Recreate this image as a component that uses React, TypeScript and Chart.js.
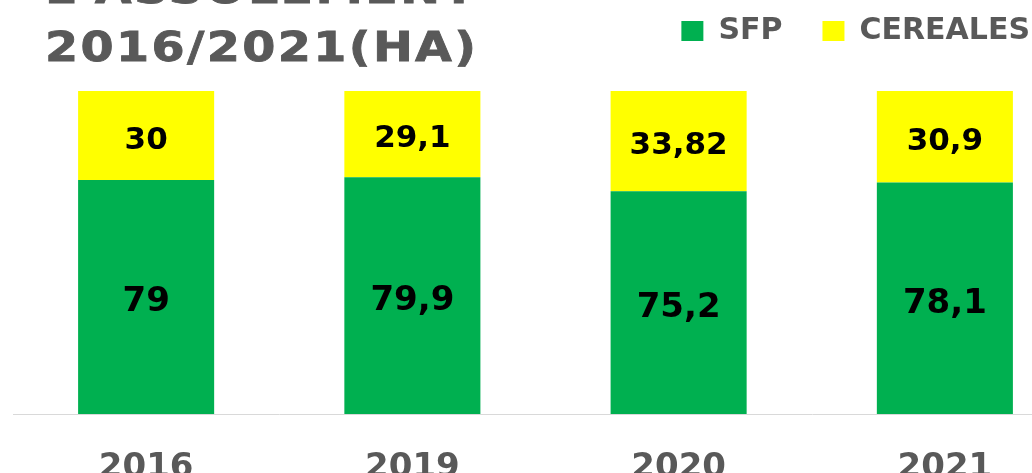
import React, { useEffect, useRef } from "react";
import { Chart, registerables } from "chart.js";

Chart.register(...registerables);

const years = ["2016", "2019", "2020", "2021"];
const sfp = [79, 79.9, 75.2, 78.1];
const cereales = [30, 29.1, 33.82, 30.9];
const seriesNames = ["SFP", "CEREALES"];
const titleLines = ["L'ASSOLEMENT", "2016/2021(HA)"];

const FONT = "'DejaVu Sans', Verdana, sans-serif";
const GREY = "#595959";
const GREEN = "#00B050";
const YELLOW = "#FFFF00";

const labelSizes = [34, 31];

const valueLabels = {
  id: "valueLabels",
  afterDatasetsDraw(chart: any) {
    const ctx = chart.ctx;
    ctx.save();
    chart.data.datasets.forEach((ds: any, i: number) => {
      const meta = chart.getDatasetMeta(i);
      const size = labelSizes[i];
      ctx.font = `bold ${size}px ${FONT}`;
      ctx.fillStyle = "#000000";
      ctx.textAlign = "center";
      ctx.textBaseline = "alphabetic";
      meta.data.forEach((bar: any, j: number) => {
        const p = bar.getProps(["x", "y", "base"], true);
        const cy = (p.y + p.base) / 2;
        const txt = String(ds.data[j]).replace(".", ",");
        ctx.fillText(txt, p.x, cy + 0.3645 * size + 2);
      });
    });
    ctx.restore();
  },
};

const legendShift = {
  id: "legendShift",
  afterLayout(chart: any) {
    const l = chart.legend;
    if (!l) return;
    l.top -= 35;
    l.bottom -= 35;
    l.left -= 8;
    l.right -= 8;
  },
};

export default function App() {
  const ref = useRef<HTMLCanvasElement | null>(null);

  useEffect(() => {
    if (!ref.current) return;
    const chart = new Chart(ref.current, {
      type: "bar",
      data: {
        labels: years,
        datasets: [
          {
            label: seriesNames[0],
            data: sfp,
            backgroundColor: GREEN,
            borderWidth: 0,
          },
          {
            label: seriesNames[1],
            data: cereales,
            backgroundColor: YELLOW,
            borderWidth: 0,
          },
        ],
      },
      options: {
        responsive: false,
        animation: false,
        devicePixelRatio: 1,
        layout: { padding: { top: 11, left: 13, right: 12, bottom: 0 } },
        datasets: {
          bar: { categoryPercentage: 1, barPercentage: 0.511 },
        },
        plugins: {
          title: { display: false },
          tooltip: { enabled: false },
          legend: {
            display: true,
            position: "top",
            align: "end",
            labels: {
              boxWidth: 22,
              boxHeight: 20,
              padding: 40,
              color: GREY,
              font: { family: FONT, size: 30, weight: "bold" },
            },
          },
        },
        scales: {
          x: {
            stacked: true,
            offset: true,
            grid: { display: false },
            border: { display: true, color: "#d9d9d9", width: 1 },
            ticks: {
              color: GREY,
              font: { family: FONT, size: 34, weight: "bold" },
              padding: 26,
              maxRotation: 0,
              autoSkip: false,
            },
            afterFit: (scale: any) => {
              scale.height = 59;
            },
          },
          y: {
            stacked: true,
            display: false,
            min: 0,
            max: 109.02,
          },
        },
      },
      plugins: [valueLabels, legendShift],
    });
    return () => chart.destroy();
  }, []);

  return (
    <div
      style={{
        position: "fixed",
        left: 0,
        top: 0,
        width: 1032,
        height: 473,
        overflow: "hidden",
        background: "#ffffff",
      }}
    >
      <canvas
        ref={ref}
        width={1090}
        height={473}
        style={{ position: "absolute", left: 0, top: 0, display: "block" }}
      />
      <div
        style={{
          position: "absolute",
          left: 45,
          top: -40,
          fontFamily: FONT,
          fontWeight: "bold",
          fontSize: 40,
          lineHeight: "58px",
          letterSpacing: 2,
          color: GREY,
          whiteSpace: "nowrap",
          transform: "scaleX(1.19)",
          transformOrigin: "0 0",
          WebkitTextStroke: "0.8px #595959",
        }}
      >
        {titleLines.map((t) => (
          <div key={t}>{t}</div>
        ))}
      </div>
    </div>
  );
}
